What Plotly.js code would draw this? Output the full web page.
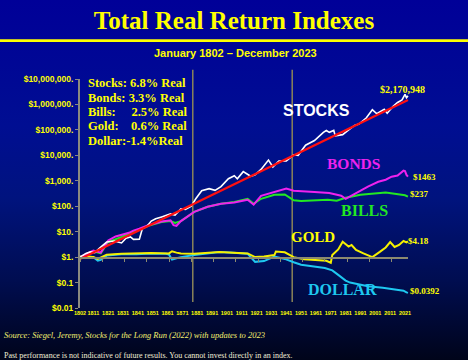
<!DOCTYPE html>
<html>
<head>
<meta charset="utf-8">
<script src="https://cdn.plot.ly/plotly-3.0.1.min.js"></script>
<style>
  html, body { margin:0; padding:0; }
  body { width:468px; height:360px; overflow:hidden;
    background: linear-gradient(180deg, #000098 0%, #000e92 35%, #00137e 55%, #000d50 78%, #00041a 100%); }
  #chart { width:468px; height:360px; }
</style>
</head>
<body>
<div id="chart"></div>
<script>
// ---- data ----
const stockYears  = [1802,1806,1809,1812,1815,1820,1825,1830,1833,1836,1838,1842,1844,1847,1850,1853,1857,1860,1863,1866,1870,1873,1877,1880,1884,1889,1893,1897,1902,1906,1908,1912,1917,1920,1924,1929,1932,1936,1941,1946,1949,1954,1960,1966,1968,1970,1973,1974,1979,1982,1987,1990,1995,1999,2002,2007,2009,2013,2016,2019,2021,2022,2023];
const stockValues = [1,1.4,1.6,1.5,2.2,3.9,4.3,3.6,5.5,6.2,5.0,5.1,13,16,26,32,38,45,50,45,79,75,100,196,407,490,420,589,1200,1580,1200,2290,1500,1700,2800,6500,3500,6000,6000,10500,10000,25000,38000,80000,95000,80000,95000,58000,65000,90000,150000,170000,300000,620000,430000,650000,450000,850000,1200000,1500000,2500000,1850000,2170948];

const trendYears  = [1802, 2023];
const trendValues = [0.85, 1500000];

const bondYears  = [1802,1811,1816,1821,1826,1830,1835,1838,1842,1848,1857,1863,1865,1867,1870,1879,1888,1897,1906,1915,1919,1924,1933,1941,1946,1953,1960,1970,1978,1981,1987,1996,2003,2008,2012,2016,2020,2021,2022,2023];
const bondValues = [1,1.8,1.5,4.5,6.5,7.5,9,11,13,18,25,28,18,17,26,60,95,124,140,180,115,257,370,490,407,370,360,330,257,196,309,589,912,1100,1445,1600,2500,2400,1700,1463];

const billYears  = [1802,1811,1816,1821,1830,1838,1848,1857,1863,1866,1870,1879,1888,1897,1906,1915,1919,1924,1933,1940,1946,1951,1958,1969,1975,1981,1991,2003,2008,2014,2021,2023];
const billValues = [1,1.7,1.4,3.9,6.2,9.8,17,24,26,22,26,60,95,124,148,196,124,196,283,290,170,160,163,178,165,214,283,339,345,309,270,237];

const goldYears  = [1802,1811,1814,1820,1830,1850,1862,1864,1867,1870,1879,1896,1915,1920,1926,1933,1934,1940,1946,1953,1968,1971,1972,1974,1976,1979,1983,1985,1988,1993,1999,2004,2008,2011,2014,2017,2020,2022,2023];
const goldValues = [1.05,1.0,0.85,1.25,1.35,1.45,1.4,1.7,1.5,1.4,1.35,1.6,1.4,1.0,1.05,1.2,1.65,1.55,1.0,0.82,0.72,0.6,1.2,1.6,2.0,4.0,2.6,3.0,1.9,1.4,1.0,1.6,2.4,3.9,2.5,3.0,4.3,3.8,4.18];

const dollarYears  = [1802,1808,1811,1814,1816,1820,1830,1840,1850,1860,1862,1864,1867,1870,1879,1896,1905,1915,1920,1926,1933,1940,1946,1951,1967,1972,1976,1981,1984,1990,1996,2006,2015,2020,2022,2023];
const dollarValues = [1,1.05,1.0,0.72,0.78,1.15,1.3,1.3,1.4,1.35,1.25,0.8,0.9,1.0,1.2,1.6,1.5,1.35,0.65,0.7,1.05,0.85,0.63,0.5,0.37,0.3,0.2,0.12,0.1,0.085,0.072,0.062,0.052,0.048,0.041,0.0392];

const xTickYears  = [1802,1811,1821,1831,1841,1851,1861,1871,1881,1891,1901,1911,1921,1931,1941,1951,1961,1971,1981,1991,2001,2011,2021];
const xTickLabels = xTickYears.map(String);
const yTickValues = [0.01,0.1,1,10,100,1000,10000,100000,1000000,10000000];
const yTickLabels = ['$0.01','$0.1','$1.','$10.','$100.','$1,000.','$10,000.','$100,000.','$1,000,000.','$10,000,000.'];

const summaryLines = ['Stocks: 6.8% Real','Bonds: 3.3% Real','Bills:\u00a0\u00a0\u00a0\u00a0 2.5% Real','Gold:\u00a0\u00a0\u00a0 0.6% Real','Dollar:-1.4%Real'];
const dividerYears = [1878, 1945];

// ---- styles ----
const SERIF = 'Liberation Serif, Times New Roman, serif';
const SANS = 'Liberation Sans, Arial, sans-serif';
const YEL = '#ffff00';

function line(x, y, color, width) {
  return {x:x, y:y, type:'scatter', mode:'lines', line:{color:color, width:width}, hoverinfo:'skip', showlegend:false};
}

const traces = [
  {x:[1802,2023], y:[1,1], xaxis:'x2', yaxis:'y', type:'scatter', mode:'lines', line:{width:0}, hoverinfo:'skip', showlegend:false},
  line(dollarYears, dollarValues, '#1ec8f0', 2),
  line(goldYears, goldValues, '#f5f000', 2),
  line(billYears, billValues, '#22e822', 2),
  line(bondYears, bondValues, '#ee22ee', 2),
  line(stockYears, stockValues, '#ffffff', 1.6),
  line(trendYears, trendValues, '#ff1010', 2.2)
];

const pxPerYear = 1.484;
const plotW = 360;
const xEnd = 1802 + plotW / pxPerYear;

const annotations = [];
summaryLines.forEach((t, i) => {
  annotations.push({xref:'paper', yref:'paper', x:0.018, y:0.9825 - i*0.0633, xanchor:'left', yanchor:'middle',
    text:'<b>' + t + '</b>', showarrow:false, font:{family:SERIF, size:12.5, color:YEL}});
});
function lab(x, y, text, color, size, family, anchor) {
  annotations.push({x:x, y:y, xref:'x', yref:'y', text:text, showarrow:false, xanchor:anchor||'center', yanchor:'middle',
    font:{family:family, size:size, color:color}});
}
lab(1961.2, 5.78, '<b>STOCKS</b>', '#ffffff', 16, SANS);
lab(2002.5, 6.57, '<b>$2,170,948</b>', YEL, 10, SERIF, 'left');
lab(1986.2, 3.69, '<b>BONDS</b>', '#ee22ee', 15.5, SERIF);
lab(2025.0, 3.14, '<b>$1463</b>', YEL, 9, SERIF, 'left');
lab(1994.0, 1.82, '<b>BILLS</b>', '#22e822', 16, SERIF);
lab(2023.3, 2.48, '<b>$237</b>', YEL, 9, SERIF, 'left');
lab(1958.7, 0.80, '<b>GOLD</b>', YEL, 15, SERIF);
lab(2021.6, 0.633, '<b>$4.18</b>', YEL, 9, SERIF, 'left');
lab(1978.7, -1.29, '<b>DOLLAR</b>', '#1ec8f0', 16, SERIF);
lab(2022.7, -1.32, '<b>$0.0392</b>', YEL, 9, SERIF, 'left');

annotations.push({xref:'paper', yref:'paper', x:0.4333, y:1.1135, xanchor:'center', yanchor:'middle', showarrow:false,
  text:'<b>January 1802 \u2013 December 2023</b>', font:{family:SANS, size:11, color:YEL}});
annotations.push({xref:'paper', yref:'paper', x:-0.216, y:-0.118, xanchor:'left', yanchor:'middle', showarrow:false,
  text:'<i>Source: Siegel, Jeremy, Stocks for the Long Run (2022) with updates to 2023</i>', font:{family:SERIF, size:8.5, color:'#f4f070'}});
annotations.push({xref:'paper', yref:'paper', x:-0.216, y:-0.2096, xanchor:'left', yanchor:'middle', showarrow:false,
  text:'Past performance is not indicative of future results. You cannot invest directly in an index.', font:{family:SERIF, size:8, color:'#f2efd6'}});

const shapes = dividerYears.map(yr => ({type:'line', xref:'x', yref:'paper', x0:yr, x1:yr, y0:0.026, y1:1.04,
  line:{color:'#8a8358', width:1.5}, layer:'below'}));
shapes.push({type:'line', xref:'paper', yref:'paper', x0:-0.25, x1:1.1, y0:1.1675, y1:1.1675, line:{color:'#ffff00', width:2.8}});

const layout = {
  width:468, height:360,
  margin:{l:80, r:28, t:79, b:52},
  paper_bgcolor:'rgba(0,0,0,0)', plot_bgcolor:'rgba(0,0,0,0)',
  title:{text:'<b>Total Real Return Indexes</b>', font:{family:SERIF, size:25, color:YEL},
    x:0.5, xref:'container', y:0.944, yref:'container', yanchor:'middle', xanchor:'center'},
  showlegend:false,
  xaxis:{range:[1802, xEnd], showgrid:false, zeroline:false, showline:false, ticks:'',
    tickmode:'array', tickvals:xTickYears, ticktext:xTickLabels, tickangle:0,
    tickfont:{family:SANS, size:5.5, color:YEL, weight:'bold'}, fixedrange:true},
  xaxis2:{domain:[0, (2023-1802)*pxPerYear/plotW], range:[1802,2023], anchor:'free', position:2/9,
    showgrid:false, zeroline:false, showline:true, linecolor:'#8c8a70', linewidth:1.5,
    ticks:'outside', ticklen:3, tickcolor:'#8c8a70', tick0:1802, dtick:15, showticklabels:false},
  yaxis:{type:'log', range:[-2,7], showgrid:false, zeroline:false, showline:true, linecolor:'#8a8a80', linewidth:2,
    ticks:'outside', ticklen:3, tickcolor:'#8a8a80', tickmode:'array', tickvals:yTickValues, ticktext:yTickLabels,
    tickfont:{family:SANS, size:8.5, color:YEL, weight:'bold'}},
  annotations:annotations,
  shapes:shapes
};

Plotly.newPlot('chart', traces, layout, {staticPlot:true, displayModeBar:false});
</script>
</body>
</html>
